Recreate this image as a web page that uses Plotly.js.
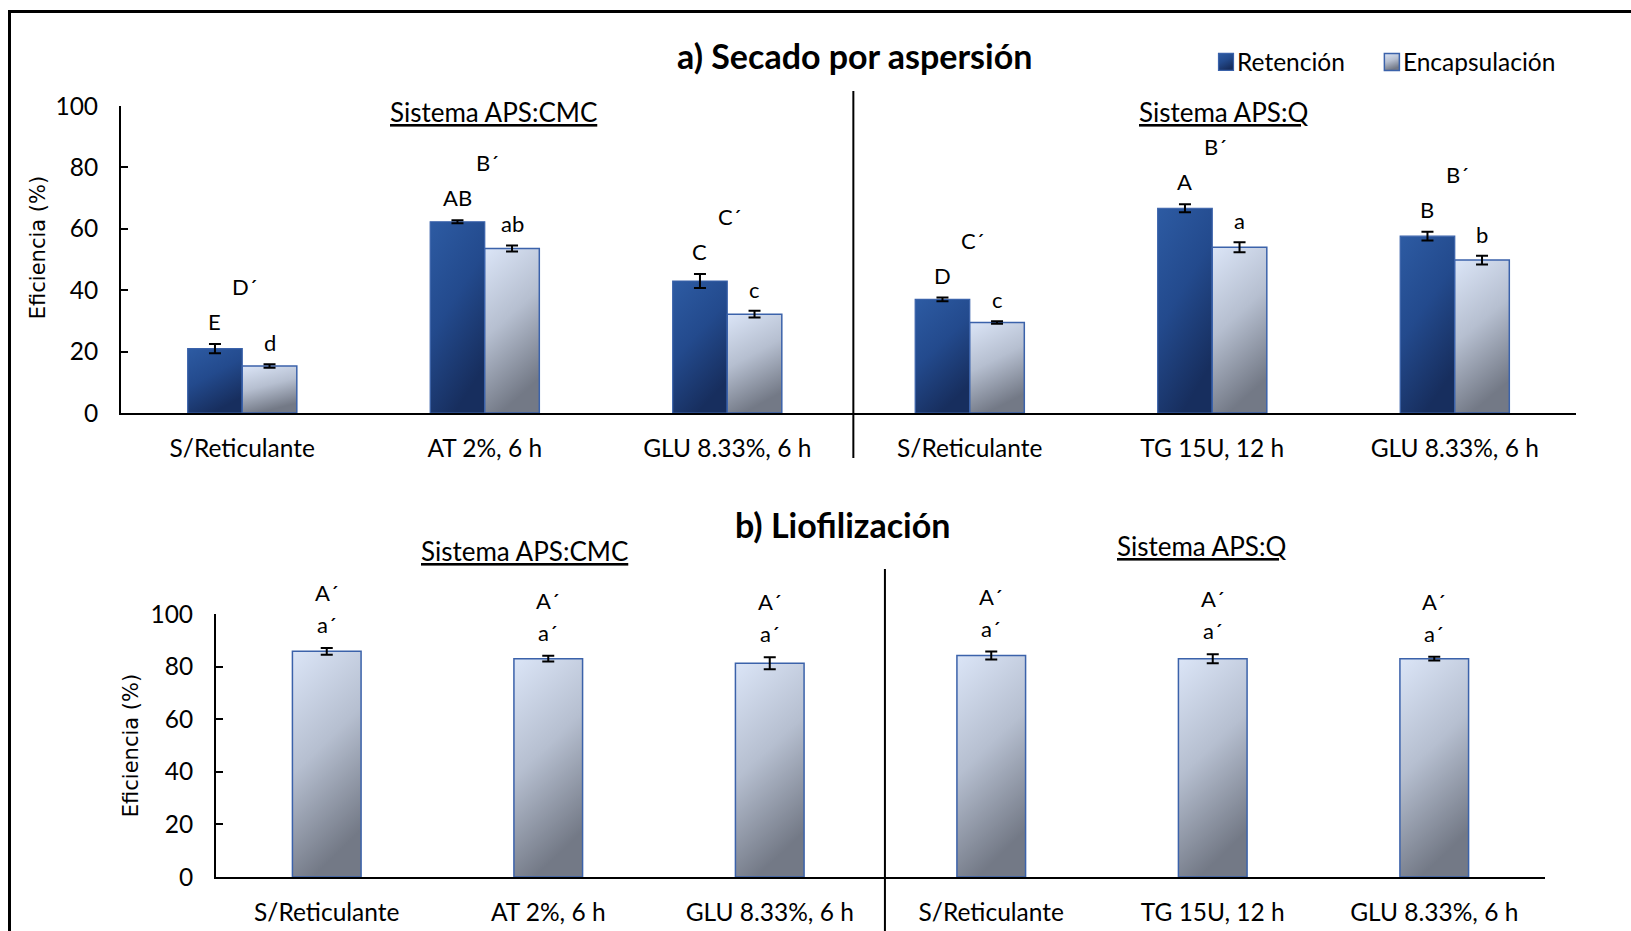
<!DOCTYPE html>
<html>
<head>
<meta charset="utf-8">
<script src="https://cdn.plot.ly/plotly-3.0.1.min.js"></script>
<style>html,body{margin:0;padding:0;background:#fff}</style>
</head>
<body>
<div id="chart" style="width:1631px;height:931px"></div>
<script>
// ---------- data ----------
const categoriesSpray = ["S/Reticulante", "AT 2%, 6 h", "GLU 8.33%, 6 h", "S/Reticulante", "TG 15U, 12 h", "GLU 8.33%, 6 h"];
const retencion = [21.0, 62.3, 43.0, 37.0, 66.7, 57.6];
const retencionErr = [1.5, 0.5, 2.3, 0.6, 1.3, 1.4];
const encapsulacion = [15.3, 53.6, 32.2, 29.5, 54.0, 49.8];
const encapsulacionErr = [0.6, 1.0, 1.1, 0.4, 1.6, 1.4];
const retencionLetters = ["E", "AB", "C", "D", "A", "B"];
const encapsulacionLetters = ["d", "ab", "c", "c", "a", "b"];
const groupLetters = ["D´", "B´", "C´", "C´", "B´", "B´"];

const categoriesFreeze = ["S/Reticulante", "AT 2%, 6 h", "GLU 8.33%, 6 h", "S/Reticulante", "TG 15U, 12 h", "GLU 8.33%, 6 h"];
const liofilizacion = [85.8, 83.0, 81.3, 84.2, 83.0, 83.0];
const liofilizacionErr = [1.3, 1.1, 2.3, 1.5, 1.7, 0.7];
const liofUpperLetters = ["A´", "A´", "A´", "A´", "A´", "A´"];
const liofLowerLetters = ["a´", "a´", "a´", "a´", "a´", "a´"];

const systemNames = ["Sistema APS:CMC", "Sistema APS:Q"];
const panelTitles = ["a) Secado por aspersión", "b) Liofilización"];
const seriesNames = ["Retención", "Encapsulación"];
const yTitle = "Eficiencia (%)";

// ---------- style ----------
const FONT = 'Lato, "Open Sans", sans-serif';
const TXT = '#000';
const BARGAP = 0.55;
const FREEZE_WIDTH = 0.31;
const idxSpray = categoriesSpray.map((_, i) => i);
const idxFreeze = categoriesFreeze.map((_, i) => i);
const half = (1 - BARGAP) / 4; // offset of each grouped bar centre

const errStyle = (arr) => ({type: 'data', array: arr, visible: true, color: '#000', thickness: 2, width: 6});

const data = [
  {type: 'bar', name: seriesNames[0], x: idxSpray, y: retencion, error_y: errStyle(retencionErr),
   marker: {color: '#24498c', line: {color: '#3a62aa', width: 1.2}}, xaxis: 'x', yaxis: 'y'},
  {type: 'bar', name: seriesNames[1], x: idxSpray, y: encapsulacion, error_y: errStyle(encapsulacionErr),
   marker: {color: '#b8c2d6', line: {color: '#3b62aa', width: 1.5}}, xaxis: 'x', yaxis: 'y'},
  {type: 'bar', name: 'Liofilización', x: idxFreeze, y: liofilizacion, error_y: errStyle(liofilizacionErr),
   width: FREEZE_WIDTH, showlegend: false,
   marker: {color: '#b8c2d6', line: {color: '#3b62aa', width: 1.5}}, xaxis: 'x2', yaxis: 'y2'}
];

const annotations = [];
const letterFont = {family: FONT, size: 22, color: TXT};
idxSpray.forEach(i => {
  annotations.push({xref: 'x', yref: 'y', x: i - half, y: retencion[i] + retencionErr[i], text: retencionLetters[i],
    showarrow: false, yanchor: 'bottom', yshift: 7, font: letterFont});
  annotations.push({xref: 'x', yref: 'y', x: i + half, y: encapsulacion[i] + encapsulacionErr[i], text: encapsulacionLetters[i],
    showarrow: false, yanchor: 'bottom', yshift: 6, font: letterFont});
  annotations.push({xref: 'x', yref: 'y', x: i, y: retencion[i] + retencionErr[i], text: groupLetters[i],
    showarrow: false, yanchor: 'bottom', xshift: 3, yshift: 42, font: letterFont});
});
idxFreeze.forEach(i => {
  annotations.push({xref: 'x2', yref: 'y2', x: i, y: liofilizacion[i] + liofilizacionErr[i], text: liofLowerLetters[i],
    showarrow: false, yanchor: 'bottom', yshift: 8, font: letterFont});
  annotations.push({xref: 'x2', yref: 'y2', x: i, y: liofilizacion[i] + liofilizacionErr[i], text: liofUpperLetters[i],
    showarrow: false, yanchor: 'bottom', yshift: 40, font: letterFont});
});
// panel titles
annotations.push({xref: 'paper', yref: 'paper', x: 854 / 1631, y: 1 - 55 / 931, text: '<b>' + panelTitles[0] + '</b>',
  showarrow: false, xanchor: 'center', yanchor: 'middle', font: {family: FONT, size: 34, color: TXT}});
annotations.push({xref: 'paper', yref: 'paper', x: 842 / 1631, y: 1 - 524 / 931, text: '<b>' + panelTitles[1] + '</b>',
  showarrow: false, xanchor: 'center', yanchor: 'middle', font: {family: FONT, size: 34, color: TXT}});
// system subtitles
const subFont = {family: FONT, size: 26, color: TXT};
const u = s => '<span style="text-decoration:underline">' + s + '</span>';
[[493, 112, 0], [1223, 112, 1], [524, 551, 0], [1201, 546, 1]].forEach(([px, py, k]) => {
  annotations.push({xref: 'paper', yref: 'paper', x: px / 1631, y: 1 - py / 931, text: u(systemNames[k]),
    showarrow: false, xanchor: 'center', yanchor: 'middle', font: subFont});
});

const shapes = [
  {type: 'line', xref: 'x', yref: 'paper', x0: 2.52, x1: 2.52, y0: 1 - 458 / 931, y1: 1 - 91 / 931, line: {color: '#000', width: 2}},
  {type: 'line', xref: 'x2', yref: 'paper', x0: 2.52, x1: 2.52, y0: -0.02, y1: 1 - 569 / 931, line: {color: '#000', width: 2}},
  {type: 'rect', xref: 'paper', yref: 'paper', x0: 9.5 / 1631, x1: 1.02, y0: -0.02, y1: 1 - 11.5 / 931, line: {color: '#000', width: 3}}
];

const xCommon = {range: [-0.5, 5.5], ticks: '', showline: true, linecolor: '#000', linewidth: 2,
  showgrid: false, zeroline: false, tickfont: {family: FONT, size: 24.5, color: TXT}, ticklabelstandoff: 13, fixedrange: true};
const yCommon = {range: [0, 100], dtick: 20, tick0: 0, ticks: 'inside', ticklen: 7, tickwidth: 2, tickcolor: '#000',
  showline: true, linecolor: '#000', linewidth: 2, showgrid: false, zeroline: false,
  tickfont: {family: FONT, size: 24.5, color: TXT}, ticklabelstandoff: 16, fixedrange: true};
const yTitleFont = {family: 'DejaVu Sans, Verdana, sans-serif', size: 21, color: TXT};

const layout = {
  width: 1631, height: 931,
  margin: {l: 0, r: 0, t: 0, b: 0},
  paper_bgcolor: '#fff', plot_bgcolor: 'rgba(0,0,0,0)',
  barmode: 'group', bargap: BARGAP, bargroupgap: 0,
  font: {family: FONT, color: TXT},
  showlegend: true,
  legend: {orientation: 'h', x: 1561 / 1631, xanchor: 'right', y: 1 - 62 / 931, yanchor: 'middle',
    font: {family: FONT, size: 24.5, color: TXT}, bgcolor: 'rgba(0,0,0,0)', itemwidth: 30, tracegroupgap: 0},
  xaxis: Object.assign({}, xCommon, {domain: [121 / 1631, 1576 / 1631], anchor: 'y',
    tickvals: idxSpray, ticktext: categoriesSpray}),
  yaxis: Object.assign({}, yCommon, {domain: [1 - 413 / 931, 1 - 106 / 931], anchor: 'x',
    title: {text: yTitle, font: yTitleFont, standoff: 4}}),
  xaxis2: Object.assign({}, xCommon, {domain: [216 / 1631, 1545 / 1631], anchor: 'y2',
    tickvals: idxFreeze, ticktext: categoriesFreeze}),
  yaxis2: Object.assign({}, yCommon, {domain: [1 - 877 / 931, 1 - 614 / 931], anchor: 'x2',
    title: {text: yTitle, font: yTitleFont, standoff: 6}}),
  annotations: annotations,
  shapes: shapes
};

Plotly.newPlot('chart', data, layout, {staticPlot: true, displayModeBar: false}).then(gd => {
  const ns = 'http://www.w3.org/2000/svg';
  const svg = gd.querySelector('svg.main-svg');
  let defs = svg.querySelector('defs');
  if (!defs) { defs = document.createElementNS(ns, 'defs'); svg.insertBefore(defs, svg.firstChild); }
  function grad(id, x2, y2, stops) {
    const g = document.createElementNS(ns, 'linearGradient');
    g.setAttribute('id', id);
    g.setAttribute('x1', '0'); g.setAttribute('y1', '0');
    g.setAttribute('x2', String(x2)); g.setAttribute('y2', String(y2));
    stops.forEach(([o, c]) => {
      const s = document.createElementNS(ns, 'stop');
      s.setAttribute('offset', String(o)); s.setAttribute('stop-color', c);
      g.appendChild(s);
    });
    defs.appendChild(g);
  }
  grad('gRet', 0.45, 1, [[0, '#2d5ba3'], [0.5, '#234a8d'], [1, '#172e5e']]);
  grad('gEnc', 0.3, 1, [[0, '#dbe5f7'], [0.5, '#b6bfd0'], [1, '#737986']]);
  const nameOf = el => {
    const d = el.__data__;
    if (!d) return null;
    const c = Array.isArray(d) ? d[0] : d;
    if (c && c.trace) return c.trace.name;
    if (Array.isArray(c) && c[0] && c[0].trace) return c[0].trace.name;
    return null;
  };
  gd.querySelectorAll('.barlayer .trace').forEach(tr => {
    const id = nameOf(tr) === seriesNames[0] ? 'gRet' : 'gEnc';
    tr.querySelectorAll('.point path').forEach(p => { p.style.fill = 'url(#' + id + ')'; });
  });
  gd.querySelectorAll('.legend .traces').forEach(tr => {
    const isRet = nameOf(tr) === seriesNames[0];
    const id = isRet ? 'gRet' : 'gEnc';
    tr.querySelectorAll('.legendpoints path').forEach(p => {
      p.style.fill = 'url(#' + id + ')';
      p.setAttribute('d', 'M7.5,8.5H-7.5V-8.5H7.5Z');
      p.setAttribute('transform', 'translate(29,0)');
    });
    if (isRet) {
      // wider gap between the two legend entries, as in the original
      const t = tr.getAttribute('transform') || '';
      const m = /translate\(\s*([-\d.e]+)[\s,]+([-\d.e]+)\s*\)/.exec(t);
      if (m) tr.setAttribute('transform', 'translate(' + (parseFloat(m[1]) - 13) + ',' + m[2] + ')');
    }
  });
  // the upper panel's axis title sits slightly above the axis centre in the original
  const yt = gd.querySelector('.g-ytitle');
  if (yt) yt.setAttribute('transform', 'translate(0,-12)');
});
</script>
</body>
</html>
